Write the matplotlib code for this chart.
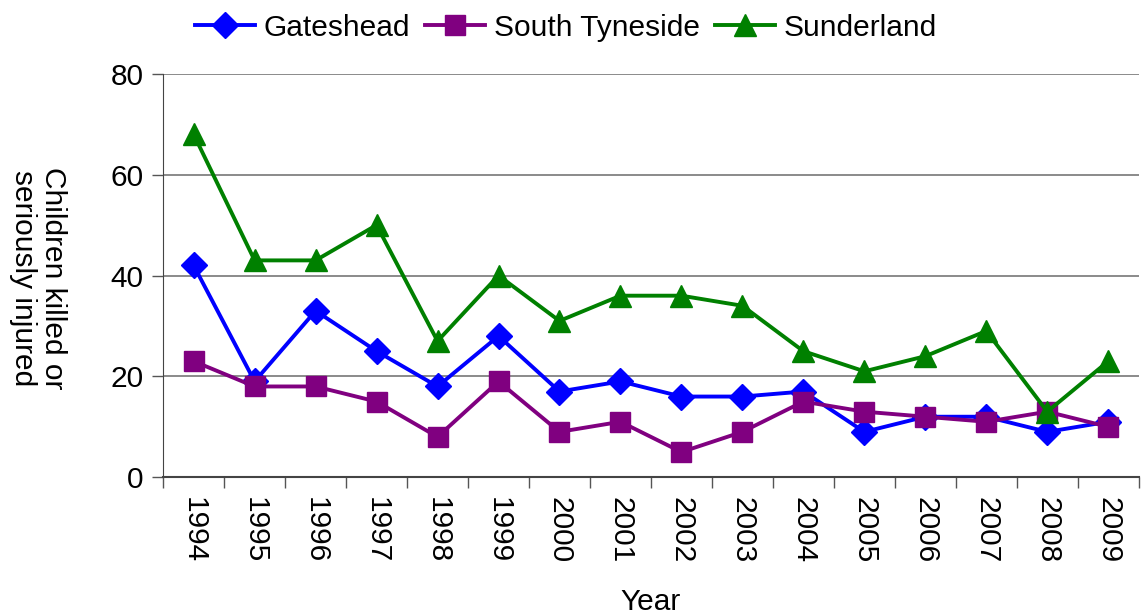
import matplotlib
matplotlib.use("Agg")
import matplotlib.pyplot as plt
import numpy as np

years = ["1994", "1995", "1996", "1997", "1998", "1999", "2000", "2001",
         "2002", "2003", "2004", "2005", "2006", "2007", "2008", "2009"]
gateshead = [42, 19, 33, 25, 18, 28, 17, 19, 16, 16, 17, 9, 12, 12, 9, 11]
south_tyneside = [23, 18, 18, 15, 8, 19, 9, 11, 5, 9, 15, 13, 12, 11, 13, 10]
sunderland = [68, 43, 43, 50, 27, 40, 31, 36, 36, 34, 25, 21, 24, 29, 13, 23]

plt.rcParams['font.family'] = ['Liberation Sans', 'DejaVu Sans']
FS = 21.5

fig = plt.figure(figsize=(11.41, 6.15), dpi=100)
ax = fig.add_axes([0.143, 0.224, 0.855, 0.656])

x = np.arange(len(years))
ax.plot(x, gateshead, color='#0000FF', marker='D', markersize=13, lw=2.8, label='Gateshead', zorder=3)
ax.plot(x, south_tyneside, color='#800080', marker='s', markersize=14.5, lw=2.8, label='South Tyneside', zorder=3)
ax.plot(x, sunderland, color='#008000', marker='^', markersize=16, lw=2.8, label='Sunderland', zorder=3)

ax.set_xlim(-0.5, len(years) - 0.5)
ax.set_ylim(0, 80)
ax.set_yticks([0, 20, 40, 60, 80])
ax.set_xticks(x)
ax.set_xticklabels(years, rotation=-90, fontsize=FS)
ax.set_xticks(np.arange(-0.5, len(years), 1), minor=True)
ax.tick_params(axis='x', which='major', length=0, pad=14)
ax.tick_params(axis='x', which='minor', length=8, width=1, color='#555555')
ax.tick_params(axis='y', length=8, width=1, labelsize=FS, color='#555555', pad=6)

ax.grid(axis='y', color='#777777', lw=1.2)
ax.set_axisbelow(True)
for s in ['top', 'right']:
    ax.spines[s].set_visible(False)
ax.spines['left'].set_color('#444444')
ax.spines['bottom'].set_color('#444444')
ax.spines['bottom'].set_linewidth(1.5)

ax.set_xlabel('Year', fontsize=FS, labelpad=18)
fig.text(0.033, 0.548, 'Children killed or\nseriously injured', rotation=-90,
         fontsize=FS, ha='center', va='center', multialignment='center',
         linespacing=1.1)

fig.legend(loc='center', bbox_to_anchor=(0.496, 0.955), ncol=3, frameon=False,
           fontsize=FS, handlelength=2.0, columnspacing=0.5, handletextpad=0.3)

fig.savefig('out.png', dpi=100)
